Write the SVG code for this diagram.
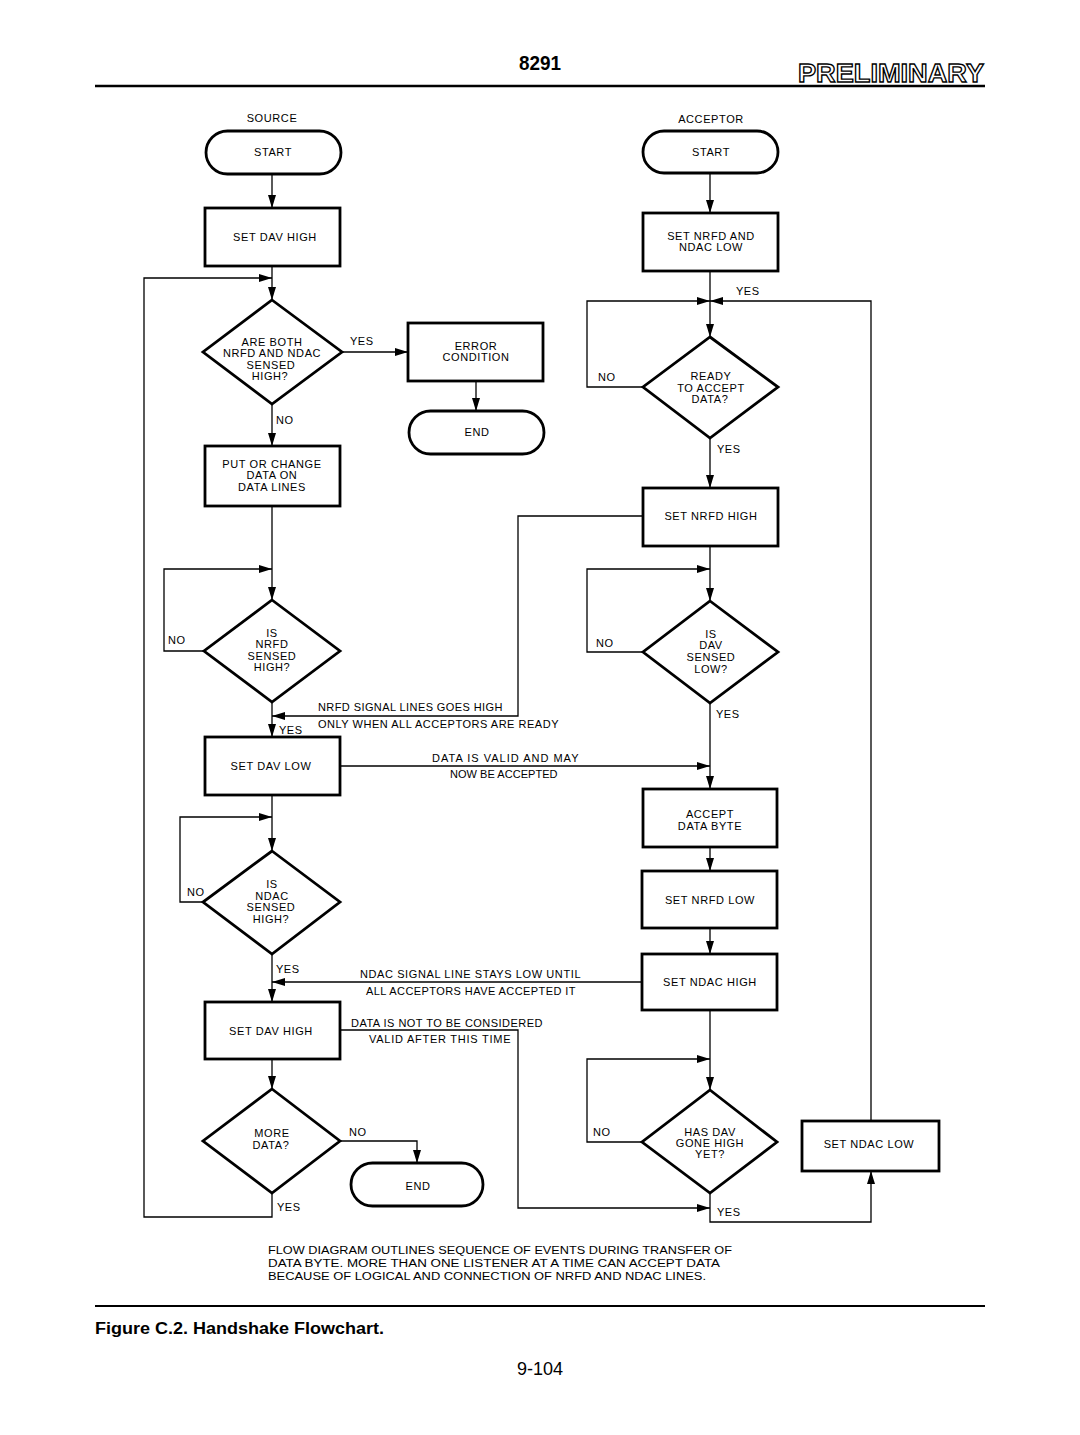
<svg xmlns="http://www.w3.org/2000/svg" width="1080" height="1435" viewBox="0 0 1080 1435">
<style>
.box{fill:#fff;stroke:#000;stroke-width:2.8}
.ln{fill:none;stroke:#000;stroke-width:1.3}
.t{font-family:"Liberation Sans",Arial,sans-serif;font-size:11px;letter-spacing:0.6px;fill:#000;text-anchor:middle}
.l{font-family:"Liberation Sans",Arial,sans-serif;font-size:11px;letter-spacing:0.5px;fill:#000}
.n{font-family:"Liberation Sans",Arial,sans-serif;font-size:10px;fill:#000}
</style>
<defs>
<marker id="ah" markerUnits="userSpaceOnUse" markerWidth="14" markerHeight="8" refX="13" refY="4" orient="auto">
<path d="M0,0 L13,4 L0,8 Z" fill="#000"/>
</marker>
</defs>
<rect width="1080" height="1435" fill="#fff"/>

<g id="header">
<text x="540" y="70" font-family="Liberation Sans,Arial,sans-serif" font-weight="bold" font-size="21" text-anchor="middle" textLength="42" lengthAdjust="spacingAndGlyphs">8291</text>
<text x="798" y="82" font-family="Liberation Sans,Arial,sans-serif" font-weight="bold" font-size="26" fill="#fff" stroke="#000" stroke-width="1.3" textLength="186" lengthAdjust="spacingAndGlyphs">PRELIMINARY</text>
<line x1="95" y1="86" x2="985" y2="86" stroke="#000" stroke-width="2.5"/>
</g>

<g id="connectors">
<path class="ln" d="M272,174 V208" marker-end="url(#ah)"/>
<path class="ln" d="M272,266 V300" marker-end="url(#ah)"/>
<path class="ln" d="M272,1193 V1217 H144 V278 H272" marker-end="url(#ah)"/>
<path class="ln" d="M342,352 H408" marker-end="url(#ah)"/>
<path class="ln" d="M476,381 V411" marker-end="url(#ah)"/>
<path class="ln" d="M272,404 V446" marker-end="url(#ah)"/>
<path class="ln" d="M272,506 V600" marker-end="url(#ah)"/>
<path class="ln" d="M204,651 H164 V569 H272" marker-end="url(#ah)"/>
<path class="ln" d="M272,702 V737" marker-end="url(#ah)"/>
<path class="ln" d="M643,516 H518 V716 H272" marker-end="url(#ah)"/>
<path class="ln" d="M340,766 H710" marker-end="url(#ah)"/>
<path class="ln" d="M272,795 V851" marker-end="url(#ah)"/>
<path class="ln" d="M203,902 H180 V817 H272" marker-end="url(#ah)"/>
<path class="ln" d="M272,954 V1002" marker-end="url(#ah)"/>
<path class="ln" d="M642,982 H272" marker-end="url(#ah)"/>
<path class="ln" d="M340,1030 H518 V1208 H710" marker-end="url(#ah)"/>
<path class="ln" d="M272,1059 V1089" marker-end="url(#ah)"/>
<path class="ln" d="M340,1141 H417 V1163" marker-end="url(#ah)"/>
<path class="ln" d="M710,173 V213" marker-end="url(#ah)"/>
<path class="ln" d="M710,271 V337" marker-end="url(#ah)"/>
<path class="ln" d="M643,387 H587 V301 H710" marker-end="url(#ah)"/>
<path class="ln" d="M871,1121 V301 H710" marker-end="url(#ah)"/>
<path class="ln" d="M710,438 V488" marker-end="url(#ah)"/>
<path class="ln" d="M710,546 V601" marker-end="url(#ah)"/>
<path class="ln" d="M643,652 H587 V569 H710" marker-end="url(#ah)"/>
<path class="ln" d="M710,703 V789" marker-end="url(#ah)"/>
<path class="ln" d="M710,847 V871" marker-end="url(#ah)"/>
<path class="ln" d="M710,928 V954" marker-end="url(#ah)"/>
<path class="ln" d="M710,1010 V1090" marker-end="url(#ah)"/>
<path class="ln" d="M642,1142 H587 V1059 H710" marker-end="url(#ah)"/>
<path class="ln" d="M710,1193 V1222 H871 V1171" marker-end="url(#ah)"/>

<text class="l" x="350" y="345">YES</text>
<text class="l" x="276" y="424">NO</text>
<text class="l" x="168" y="644">NO</text>
<text class="l" x="279" y="734">YES</text>
<text class="l" x="318" y="711" textLength="185">NRFD SIGNAL LINES GOES HIGH</text>
<text class="l" x="318" y="728" textLength="241">ONLY WHEN ALL ACCEPTORS ARE READY</text>
<text class="l" x="432" y="762" textLength="147">DATA IS VALID AND MAY</text>
<text class="l" x="450" y="778" textLength="108">NOW BE ACCEPTED</text>
<text class="l" x="187" y="896">NO</text>
<text class="l" x="276" y="973">YES</text>
<text class="l" x="360" y="978" textLength="221">NDAC SIGNAL LINE STAYS LOW UNTIL</text>
<text class="l" x="366" y="995" textLength="210">ALL ACCEPTORS HAVE ACCEPTED IT</text>
<text class="l" x="351" y="1027" textLength="192">DATA IS NOT TO BE CONSIDERED</text>
<text class="l" x="369" y="1043" textLength="142">VALID AFTER THIS TIME</text>
<text class="l" x="349" y="1136">NO</text>
<text class="l" x="277" y="1211">YES</text>
<text class="l" x="736" y="295">YES</text>
<text class="l" x="598" y="381">NO</text>
<text class="l" x="717" y="453">YES</text>
<text class="l" x="596" y="647">NO</text>
<text class="l" x="716" y="718">YES</text>
<text class="l" x="593" y="1136">NO</text>
<text class="l" x="717" y="1216">YES</text>
</g>

<g id="source-title"><text class="t" x="272" y="122">SOURCE</text></g>
<g id="src-start"><rect class="box" x="206" y="131" width="135" height="43" rx="21.5"/><text class="t" x="273" y="156">START</text></g>
<g id="src-set-dav-high"><rect class="box" x="205" y="208" width="135" height="58"/><text class="t" x="275" y="241">SET DAV HIGH</text></g>
<g id="src-both-high"><polygon class="box" points="272,300 342,352 272,404 203,352"/>
<text class="t" x="272" y="346">ARE BOTH</text><text class="t" x="272" y="357">NRFD AND NDAC</text><text class="t" x="271" y="369">SENSED</text><text class="t" x="270" y="380">HIGH?</text></g>
<g id="src-error"><rect class="box" x="408" y="323" width="135" height="58"/><text class="t" x="476" y="350">ERROR</text><text class="t" x="476" y="361">CONDITION</text></g>
<g id="src-end1"><rect class="box" x="409" y="411" width="135" height="43" rx="21.5"/><text class="t" x="477" y="436">END</text></g>
<g id="src-put-data"><rect class="box" x="205" y="446" width="135" height="60"/><text class="t" x="272" y="468">PUT OR CHANGE</text><text class="t" x="272" y="479">DATA ON</text><text class="t" x="272" y="491">DATA LINES</text></g>
<g id="src-nrfd-high"><polygon class="box" points="272,600 340,651 272,702 204,651"/>
<text class="t" x="272" y="637">IS</text><text class="t" x="272" y="648">NRFD</text><text class="t" x="272" y="660">SENSED</text><text class="t" x="272" y="671">HIGH?</text></g>
<g id="src-set-dav-low"><rect class="box" x="205" y="737" width="135" height="58"/><text class="t" x="271" y="770">SET DAV LOW</text></g>
<g id="src-ndac-high"><polygon class="box" points="272,851 340,902 272,954 203,902"/>
<text class="t" x="272" y="888">IS</text><text class="t" x="272" y="900">NDAC</text><text class="t" x="271" y="911">SENSED</text><text class="t" x="271" y="923">HIGH?</text></g>
<g id="src-set-dav-high2"><rect class="box" x="205" y="1002" width="135" height="57"/><text class="t" x="271" y="1035">SET DAV HIGH</text></g>
<g id="src-more-data"><polygon class="box" points="272,1089 340,1141 272,1193 203,1141"/>
<text class="t" x="272" y="1137">MORE</text><text class="t" x="271" y="1149">DATA?</text></g>
<g id="src-end2"><rect class="box" x="351" y="1163" width="132" height="43" rx="21.5"/><text class="t" x="418" y="1190">END</text></g>

<g id="acceptor-title"><text class="t" x="711" y="123">ACCEPTOR</text></g>
<g id="acc-start"><rect class="box" x="643" y="131" width="135" height="42" rx="21"/><text class="t" x="711" y="156">START</text></g>
<g id="acc-set-low"><rect class="box" x="643" y="213" width="135" height="58"/><text class="t" x="711" y="240">SET NRFD AND</text><text class="t" x="711" y="251">NDAC LOW</text></g>
<g id="acc-ready"><polygon class="box" points="710,337 778,387 710,438 643,387"/>
<text class="t" x="711" y="380">READY</text><text class="t" x="711" y="392">TO ACCEPT</text><text class="t" x="710" y="403">DATA?</text></g>
<g id="acc-set-nrfd-high"><rect class="box" x="643" y="488" width="135" height="58"/><text class="t" x="711" y="520">SET NRFD HIGH</text></g>
<g id="acc-dav-low"><polygon class="box" points="710,601 778,652 710,703 643,652"/>
<text class="t" x="711" y="638">IS</text><text class="t" x="711" y="649">DAV</text><text class="t" x="711" y="661">SENSED</text><text class="t" x="711" y="673">LOW?</text></g>
<g id="acc-accept"><rect class="box" x="643" y="789" width="134" height="58"/><text class="t" x="710" y="818">ACCEPT</text><text class="t" x="710" y="830">DATA BYTE</text></g>
<g id="acc-set-nrfd-low"><rect class="box" x="642" y="871" width="135" height="57"/><text class="t" x="710" y="904">SET NRFD LOW</text></g>
<g id="acc-set-ndac-high"><rect class="box" x="642" y="954" width="135" height="56"/><text class="t" x="710" y="986">SET NDAC HIGH</text></g>
<g id="acc-dav-gone-high"><polygon class="box" points="710,1090 777,1142 710,1193 642,1142"/>
<text class="t" x="710" y="1136">HAS DAV</text><text class="t" x="710" y="1147">GONE HIGH</text><text class="t" x="710" y="1158">YET?</text></g>
<g id="acc-set-ndac-low"><rect class="box" x="802" y="1121" width="137" height="50"/><text class="t" x="869" y="1148">SET NDAC LOW</text></g>

<g id="footer">
<text class="n" x="268" y="1254" textLength="464" lengthAdjust="spacingAndGlyphs">FLOW DIAGRAM OUTLINES SEQUENCE OF EVENTS DURING TRANSFER OF</text>
<text class="n" x="268" y="1267" textLength="452" lengthAdjust="spacingAndGlyphs">DATA BYTE. MORE THAN ONE LISTENER AT A TIME CAN ACCEPT DATA</text>
<text class="n" x="268" y="1280" textLength="438" lengthAdjust="spacingAndGlyphs">BECAUSE OF LOGICAL AND CONNECTION OF NRFD AND NDAC LINES.</text>
<line x1="95" y1="1306" x2="985" y2="1306" stroke="#000" stroke-width="2"/>
<text x="95" y="1334" font-family="Liberation Sans,Arial,sans-serif" font-weight="bold" font-size="16" textLength="289" lengthAdjust="spacingAndGlyphs">Figure C.2.  Handshake Flowchart.</text>
<text x="540" y="1375" font-family="Liberation Sans,Arial,sans-serif" font-size="18" text-anchor="middle">9-104</text>
</g>
</svg>
